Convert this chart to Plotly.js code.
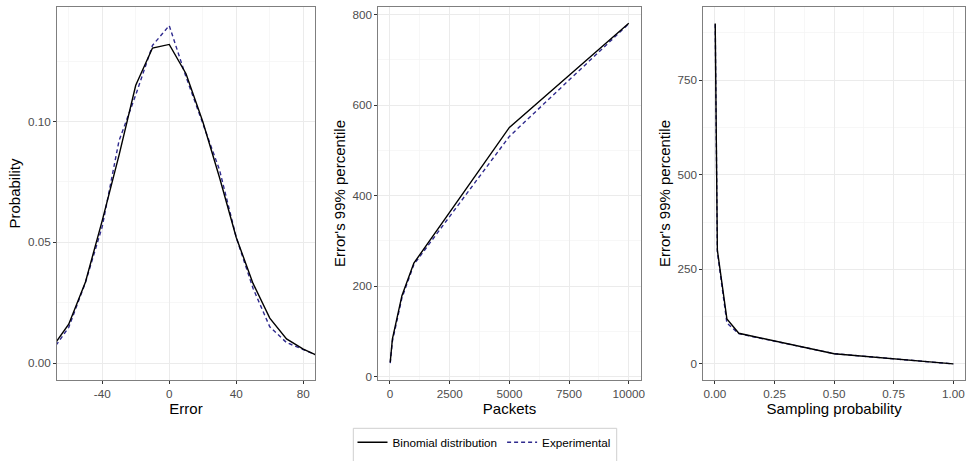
<!DOCTYPE html>
<html>
<head>
<meta charset="utf-8">
<script src="https://cdn.plot.ly/plotly-3.0.1.min.js"></script>
<style>
  html, body { margin: 0; padding: 0; background: #ffffff; }
  #chart { width: 967px; height: 461px; }
</style>
</head>
<body>
<div id="chart"></div>
<script>
// Error distribution: binomial model vs. measured
const errorValues   = [-70, -60, -50, -40, -30, -20, -10, 0, 10, 20, 30, 40, 50, 60, 70, 80, 90];
const errorBinomial = [0.0063, 0.0161, 0.0336, 0.0590, 0.0860, 0.1150, 0.1304, 0.1319, 0.1198, 0.1000, 0.0768, 0.0520, 0.0330, 0.0186, 0.0100, 0.0058, 0.0026];
const errorMeasured = [0.0050, 0.0148, 0.0334, 0.0565, 0.0920, 0.1110, 0.1315, 0.1397, 0.1185, 0.0990, 0.0800, 0.0520, 0.0310, 0.0150, 0.0085, 0.0056, 0.0027];

// 99th percentile of the error vs. number of packets
const packetCounts    = [10, 100, 500, 1000, 5000, 10000];
const packetsBinomial = [32, 83, 179, 251, 551, 781];
const packetsMeasured = [30, 78, 174, 248, 531, 780];

// 99th percentile of the error vs. sampling probability
const samplingProbs    = [0.001, 0.01, 0.05, 0.1, 0.5, 1];
const samplingBinomial = [900, 301, 119, 81, 27, 0];
const samplingMeasured = [898, 296, 108, 80, 27, 0];

// Tick labels
const errTickVals = [-40, 0, 40, 80];
const errTickText = ['-40', '0', '40', '80'];
const probTickVals = [0, 0.05, 0.10];
const probTickText = ['0.00', '0.05', '0.10'];
const pktTickVals = [0, 2500, 5000, 7500, 10000];
const pktTickText = ['0', '2500', '5000', '7500', '10000'];
const pctTickVals = [0, 200, 400, 600, 800];
const smpTickVals = [0, 0.25, 0.5, 0.75, 1];
const smpTickText = ['0.00', '0.25', '0.50', '0.75', '1.00'];
const smpPctTickVals = [0, 250, 500, 750];

const seriesNames = ['Binomial distribution', 'Experimental'];

const W = 967, H = 461;
const FONT = 'Liberation Sans, Arial, Helvetica, sans-serif';
const solidLine = { color: '#000000', width: 1.4 };
const dashLine  = { color: '#2f2a8e', width: 1.4, dash: '4px,3px' };

function px(x) { return x / W; }
function py(y) { return 1 - y / H; }

const traces = [
  { x: errorValues, y: errorMeasured, xaxis: 'x', yaxis: 'y', mode: 'lines', name: seriesNames[1], line: dashLine, showlegend: true, legendrank: 2 },
  { x: errorValues, y: errorBinomial, xaxis: 'x', yaxis: 'y', mode: 'lines', name: seriesNames[0], line: solidLine, showlegend: true, legendrank: 1 },
  { x: packetCounts, y: packetsMeasured, xaxis: 'x2', yaxis: 'y2', mode: 'lines', name: seriesNames[1], line: dashLine, showlegend: false },
  { x: packetCounts, y: packetsBinomial, xaxis: 'x2', yaxis: 'y2', mode: 'lines', name: seriesNames[0], line: solidLine, showlegend: false },
  { x: samplingProbs, y: samplingMeasured, xaxis: 'x3', yaxis: 'y3', mode: 'lines', name: seriesNames[1], line: dashLine, showlegend: false },
  { x: samplingProbs, y: samplingBinomial, xaxis: 'x3', yaxis: 'y3', mode: 'lines', name: seriesNames[0], line: solidLine, showlegend: false }
];

const tickFont = { family: FONT, size: 11.7, color: '#4d4d4d' };
const titleFont = { family: FONT, size: 15, color: '#000000' };

function axis(extra) {
  return Object.assign({
    showline: true, mirror: true, linecolor: '#7f7f7f', linewidth: 1,
    showgrid: true, gridcolor: '#ebebeb', gridwidth: 1,
    zeroline: false,
    ticks: 'outside', ticklen: 3, tickcolor: '#333333', tickwidth: 1,
    tickfont: tickFont, tickmode: 'array',
    fixedrange: true
  }, extra);
}

const minor = (d) => ({ dtick: d, showgrid: true, gridcolor: '#f4f4f4', gridwidth: 0.7, ticks: '' });

const yDomain = [81 / H, 454 / H];

const layout = {
  width: W, height: H,
  margin: { l: 0, r: 0, t: 0, b: 0, autoexpand: false },
  paper_bgcolor: '#ffffff', plot_bgcolor: '#ffffff',
  font: { family: FONT, color: '#000000' },
  xaxis: axis({ domain: [px(57), px(315)], anchor: 'y', range: [-67, 87],
    tickvals: errTickVals, ticktext: errTickText, minor: Object.assign(minor(20), { tick0: -60 }),
    title: { text: 'Error', font: titleFont, standoff: 3 } }),
  yaxis: axis({ domain: yDomain, anchor: 'x', range: [-0.007, 0.1474],
    tickvals: probTickVals, ticktext: probTickText, minor: Object.assign(minor(0.025), { tick0: 0 }),
    title: { text: 'Probability', font: titleFont, standoff: 3 } }),
  xaxis2: axis({ domain: [px(378.3), px(640.7)], anchor: 'y2', range: [-489.5, 10499.5],
    tickvals: pktTickVals, ticktext: pktTickText, minor: Object.assign(minor(1250), { tick0: 0 }),
    title: { text: 'Packets', font: titleFont, standoff: 3 } }),
  yaxis2: axis({ domain: yDomain, anchor: 'x2', range: [-7.3, 817],
    tickvals: pctTickVals, minor: Object.assign(minor(100), { tick0: 0 }),
    title: { text: "Error's 99% percentile", font: titleFont, standoff: 3 } }),
  xaxis3: axis({ domain: [px(703.3), px(965)], anchor: 'y3', range: [-0.049, 1.049],
    tickvals: smpTickVals, ticktext: smpTickText, minor: Object.assign(minor(0.125), { tick0: 0 }),
    title: { text: 'Sampling probability', font: titleFont, standoff: 3 } }),
  yaxis3: axis({ domain: yDomain, anchor: 'x3', range: [-42.5, 943.5],
    tickvals: smpPctTickVals, minor: Object.assign(minor(125), { tick0: 0 }),
    title: { text: "Error's 99% percentile", font: titleFont, standoff: 3 } }),
  showlegend: true,
  legend: {
    orientation: 'h', x: px(484), xanchor: 'center', y: py(442.3), yanchor: 'middle',
    xref: 'paper', yref: 'paper',
    font: { family: FONT, size: 11.7, color: '#000000' },
    bgcolor: 'rgba(0,0,0,0)', borderwidth: 0, traceorder: 'normal'
  },
  shapes: [
    { type: 'rect', xref: 'paper', yref: 'paper',
      x0: px(353.3), x1: px(616.7), y0: py(428.3), y1: py(480),
      line: { color: '#cfcfcf', width: 1 }, fillcolor: 'rgba(0,0,0,0)', layer: 'below' }
  ]
};

Plotly.newPlot('chart', traces, layout, { displayModeBar: false, staticPlot: true });
</script>
</body>
</html>
